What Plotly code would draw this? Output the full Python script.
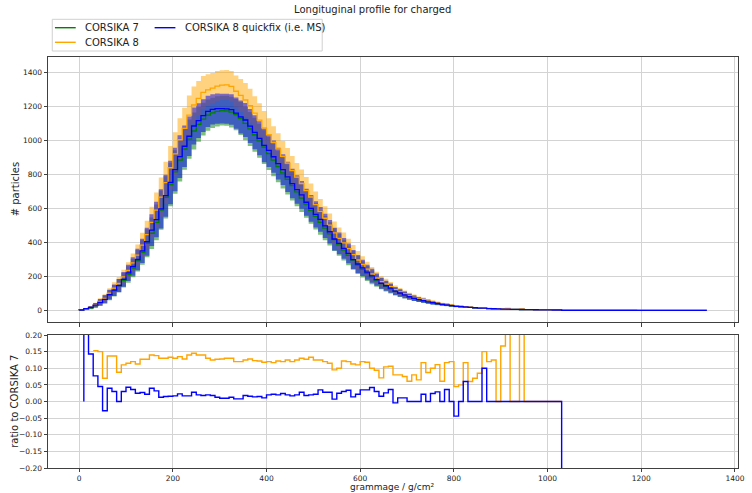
import plotly.graph_objects as go

# bin edges (g/cm^2); value k belongs to the interval (edge[k-1], edge[k]]
grammage = list(range(0, 1341, 10))

corsika7 = [0,
    2, 7, 15, 28, 45, 66, 89, 115, 145, 177,
    211, 249, 292, 341, 395, 454, 518, 590, 665, 741,
    815, 885, 950, 1008, 1056, 1095, 1126, 1149, 1163, 1172,
    1176, 1175, 1167, 1152, 1130, 1101, 1068, 1034, 998, 961,
    923, 885, 847, 809, 771, 734, 697, 661, 625, 589,
    553, 518, 484, 450, 417, 385, 354, 324, 295, 267,
    241, 217, 195, 175, 157, 141, 126, 113, 101, 90,
    80, 71, 63, 56, 50, 44, 39, 35, 31, 27.5,
    24.5, 21.5, 19, 17, 15, 13.3, 11.8, 10.5, 9.3, 8.3,
    7.4, 6.6, 5.9, 5.3, 4.7, 4.2, 3.7, 3.3, 2.9, 2.6,
    2.3, 2.0, 1.8, 1.6, 1.4, 1.25, 1.1, 0.98, 0.87, 0.77,
    0.68, 0.6, 0.53, 0.47, 0.42, 0.37, 0.33, 0.29, 0.26, 0.23,
    0.2, 0.18, 0.16, 0.14, 0.12, 0.11, 0.1, 0.09, 0.08, 0.07,
    0.06, 0.05, 0.05, 0.04]

corsika8 = [0,
    2.2, 8, 17.3, 32.3, 51.8, 70.6, 101.2, 130.8, 157.8, 196.5,
    235.3, 278.9, 325, 384.3, 445.2, 517.6, 589.5, 666.7, 751.5, 839.6,
    921, 1004.5, 1071.6, 1149.1, 1209.1, 1248.3, 1283.6, 1298.4, 1308.4, 1320.8,
    1326.5, 1327.8, 1318.7, 1290.2, 1265.6, 1238.6, 1204.7, 1161.2, 1119.8, 1074.4,
    1033.8, 988.5, 950.3, 906.1, 867.4, 822.1, 784.1, 746.9, 704.4, 667.3,
    622.1, 582.8, 542.1, 501.8, 456.6, 423.5, 397.2, 362.9, 328.3, 296.4,
    269.9, 242.6, 214.5, 191.5, 168.1, 155.7, 139.4, 122, 109.1, 96.8,
    84.9, 76.7, 67.1, 62.6, 54.4, 48.4, 43.3, 37.1, 34.6, 30.8,
    25.6, 22.6, 21.2, 18, 16.1, 14.4, 13.6, 11.8, 10.5, 8.3,
    8.6, 10.6, 5.9, 5.3, 8.5, 4.2, 3.7, 3.3, 2.9, 2.6,
    2.3, 2.0, 1.8, 1.6, 1.4, 1.25, 1.1, 0.98, 0.87, 0.77,
    0.68, 0.6, 0.53, 0.47, 0.42, 0.37, 0.33, 0.29, 0.26, 0.23,
    0.2, 0.18, 0.16, 0.14, 0.12, 0.11, 0.1, 0.09, 0.08, 0.07,
    0.06, 0.05, 0.05, 0.04]

corsika8_quickfix = [0,
    2, 9.5, 17.1, 30.2, 47, 64.2, 92.6, 118.5, 145, 182.3,
    220.1, 258, 299.3, 350.2, 403.7, 472.2, 534.6, 597.7, 675, 752.9,
    828.9, 905.4, 966.2, 1025.1, 1085.6, 1116.9, 1146.3, 1172, 1183.9, 1187.2,
    1187.8, 1186.8, 1182.2, 1161.2, 1139, 1120.8, 1085.1, 1048.5, 1013, 971.6,
    941.5, 904.5, 863.9, 828.4, 786.4, 746.5, 710.9, 679.5, 636.3, 600.8,
    565.2, 536.1, 497.6, 462.6, 419.9, 394.6, 364.6, 335, 299.1, 272.9,
    249.4, 224.6, 203.2, 180.3, 159.5, 144.7, 130.5, 112.5, 102.1, 91,
    80, 71, 63, 57.2, 50, 45.1, 40.1, 35, 32.1, 27.5,
    23.4, 21.5, 20.1, 17, 15, 13.3, 13, 10.5, 9.3, 8.3,
    7.4, 6.6, 5.9, 5.3, 4.7, 4.2, 3.7, 3.3, 2.9, 2.6,
    2.3, 2.0, 1.8, 0, 0, 0, 0, 0, 0, 0,
    0, 0, 0, 0, 0, 0, 0, 0, 0, 0,
    0, 0, 0, 0, 0, 0, 0, 0, 0, 0,
    0, 0, 0, 0]

# half-width of the shaded spread band (same for all three series)
spread = [0,
    1.5, 4, 8, 13, 19, 24, 29, 34, 39, 43,
    48, 55, 63, 72, 82, 93, 105, 116, 124, 128,
    128, 126, 122, 116, 109, 102, 96, 92, 89, 89,
    88, 88, 90, 92, 97, 100, 100, 100, 100, 99,
    97, 95, 93, 91, 89, 87, 84, 82, 80, 79,
    77, 73, 71, 69, 67, 64, 61, 58, 56, 53,
    48, 44, 41, 36, 33, 30, 27, 24, 22, 20,
    18, 16, 14.3, 12.5, 11.5, 10.5, 8.6, 7.7, 7.1, 6.2,
    5.7, 5.2, 4.3, 3.8, 3.5, 3.1, 2.7, 2.4, 2.1, 1.8,
    1.6, 1.4, 1.25, 1.1, 1.0, 0.9, 0.8, 0.7, 0.62, 0.55,
    0.5, 0.45, 0.4, 0.36, 0.32, 0.28, 0.25, 0.22, 0.2, 0.18,
    0.16, 0.14, 0.12, 0.11, 0.1, 0.09, 0.08, 0.07, 0.06, 0.055,
    0.05, 0.045, 0.04, 0.035, 0.03, 0.03, 0.025, 0.02, 0.02, 0.02,
    0.015, 0.015, 0.01, 0.01]

N = None
ratio_corsika8 = [N,
    N, N, 0.153, 0.153, 0.15, 0.07, 0.137, 0.137, 0.088, 0.11,
    0.115, 0.12, 0.113, 0.127, 0.127, 0.14, 0.138, 0.13, 0.13, 0.133,
    0.13, 0.135, 0.128, 0.14, 0.145, 0.14, 0.14, 0.13, 0.125, 0.127,
    0.128, 0.13, 0.13, 0.12, 0.12, 0.125, 0.128, 0.123, 0.122, 0.118,
    0.12, 0.117, 0.122, 0.12, 0.125, 0.12, 0.125, 0.13, 0.127, 0.133,
    0.125, 0.125, 0.12, 0.115, 0.095, 0.1, 0.122, 0.12, 0.113, 0.11,
    0.12, 0.118, 0.1, 0.094, 0.071, 0.104, 0.106, 0.08, 0.08, 0.075,
    0.061, 0.08, 0.065, 0.117, 0.087, 0.1, 0.111, 0.061, 0.117, 0.12,
    0.045, 0.05, 0.117, 0.06, 0.07, 0.085, 0.15, 0.12, 0.125, 0.0,
    0.167, 0.6, 0.0, 0.0, 0.8, 0.0, 0.0, 0.0, 0.0, 0.0,
    0.0, 0.0, 0.0, N, N, N, N, N, N, N,
    N, N, N, N, N, N, N, N, N, N,
    N, N, N, N, N, N, N, N, N, N,
    N, N, N, N]

ratio_quickfix = [N,
    0.0, 0.35, 0.143, 0.077, 0.045, -0.028, 0.04, 0.03, 0.0, 0.03,
    0.043, 0.036, 0.025, 0.027, 0.022, 0.04, 0.032, 0.013, 0.015, 0.016,
    0.017, 0.023, 0.017, 0.017, 0.028, 0.02, 0.018, 0.02, 0.018, 0.013,
    0.01, 0.01, 0.013, 0.008, 0.008, 0.018, 0.016, 0.014, 0.015, 0.011,
    0.02, 0.022, 0.02, 0.024, 0.02, 0.017, 0.02, 0.028, 0.018, 0.02,
    0.022, 0.035, 0.028, 0.028, 0.007, 0.025, 0.03, 0.034, 0.014, 0.022,
    0.035, 0.035, 0.042, 0.03, 0.016, 0.026, 0.036, -0.004, 0.011, 0.011,
    0.0, 0.0, 0.0, 0.022, 0.0, 0.024, 0.029, 0.0, 0.036, 0.0,
    -0.044, 0.0, 0.06, 0.0, 0.0, 0.0, 0.1, 0.0, 0.0, 0.0,
    0.0, 0.0, 0.0, 0.0, 0.0, 0.0, 0.0, 0.0, 0.0, 0.0,
    0.0, 0.0, 0.0, -1, -1, -1, -1, -1, -1, -1,
    -1, -1, -1, -1, -1, -1, -1, -1, -1, -1,
    -1, -1, -1, -1, -1, -1, -1, -1, -1, -1,
    -1, -1, -1, -1]

names = ["CORSIKA 7", "CORSIKA 8", "CORSIKA 8 quickfix (i.e. MS)"]
series = [corsika7, corsika8, corsika8_quickfix]
line_colors = ["#008000", "#FFA500", "#0000FF"]
fill_colors = ["rgba(0,128,0,0.5)", "rgba(255,165,0,0.5)", "rgba(0,0,255,0.5)"]

fig = go.Figure()

# spread bands
for vals, fc in zip(series, fill_colors):
    lo = [v - s for v, s in zip(vals, spread)]
    hi = [v + s for v, s in zip(vals, spread)]
    fig.add_trace(go.Scatter(x=grammage, y=lo, mode="lines", line=dict(width=0, shape="vh"),
                             showlegend=False, hoverinfo="skip", xaxis="x", yaxis="y"))
    fig.add_trace(go.Scatter(x=grammage, y=hi, mode="lines", line=dict(width=0, shape="vh"),
                             fill="tonexty", fillcolor=fc, showlegend=False, hoverinfo="skip",
                             xaxis="x", yaxis="y"))

# step lines
for vals, lc, nm in zip(series, line_colors, names):
    fig.add_trace(go.Scatter(x=grammage, y=vals, mode="lines", name=nm,
                             line=dict(color=lc, width=1.3, shape="vh"),
                             showlegend=False, xaxis="x", yaxis="y"))

# ratio panel
fig.add_trace(go.Scatter(x=grammage, y=ratio_corsika8, mode="lines", name=names[1],
                         line=dict(color=line_colors[1], width=1.4, shape="vh"),
                         showlegend=False, xaxis="x2", yaxis="y2"))
fig.add_trace(go.Scatter(x=grammage, y=ratio_quickfix, mode="lines", name=names[2],
                         line=dict(color=line_colors[2], width=1.4, shape="vh"),
                         showlegend=False, xaxis="x2", yaxis="y2"))

FONT = "DejaVu Sans"
GRID = "#d3d3d3"
SPINE = "#404040"
xticks = [0, 200, 400, 600, 800, 1000, 1200, 1400]

axis_common = dict(showgrid=True, gridcolor=GRID, gridwidth=1, zeroline=False,
                   showline=True, linecolor=SPINE, linewidth=1, mirror=True,
                   ticks="outside", tickcolor=SPINE, tickwidth=1,
                   tickfont=dict(family=FONT, size=7.5, color="#222"))

L, R, T, B = 48, 7, 57, 25
W, H = 752, 493
PW, PH = W - L - R, H - T - B


def px(xp):
    return (xp - L) / PW


def py(yp):
    return (H - B - yp) / PH


fig.update_layout(
    width=W, height=H,
    margin=dict(l=L, r=R, t=T, b=B),
    paper_bgcolor="white", plot_bgcolor="white",
    showlegend=False,
    font=dict(family=FONT, color="#222"),
    title=dict(text="Longituginal profile for charged", x=px(376), xref="paper", xanchor="center",
               y=1 - 9.5 / H, yref="container", yanchor="middle",
               font=dict(family=FONT, size=10, color="#222")),
    xaxis=dict(domain=[0, 1], anchor="y", range=[-66.5, 1406.5], tickvals=xticks,
               showticklabels=False, ticklen=3.5, **axis_common),
    yaxis=dict(domain=[py(322), 1], anchor="x", range=[-68.8, 1491.8], ticklen=3.5,
               tickvals=[0, 200, 400, 600, 800, 1000, 1200, 1400], **axis_common),
    xaxis2=dict(domain=[0, 1], anchor="y2", range=[-66.5, 1406.5], tickvals=xticks,
                ticklen=2.5, **axis_common),
    yaxis2=dict(domain=[0, py(335)], anchor="x2", range=[-0.2, 0.2], ticklen=3.5,
                tickvals=[-0.2, -0.15, -0.1, -0.05, 0, 0.05, 0.1, 0.15, 0.2],
                tickformat=".2f", **axis_common),
)

annotations = [
    dict(text="# particles", x=px(15), y=py(189), textangle=-90, size=10),
    dict(text="ratio to CORSIKA 7", x=px(13.5), y=py(401), textangle=-90, size=10),
    dict(text="grammage / g/cm²", x=px(395), y=py(487.2), textangle=0, size=9),
]
for a in annotations:
    fig.add_annotation(xref="paper", yref="paper", showarrow=False, xanchor="center",
                       yanchor="middle", x=a["x"], y=a["y"], text=a["text"], textangle=a["textangle"],
                       font=dict(family=FONT, size=a["size"], color="#222"))

# legend (drawn manually to match the two-column layout)
fig.add_shape(type="rect", xref="paper", yref="paper", x0=px(52.3), x1=px(325), y0=py(51), y1=py(19.3),
              line=dict(color="#d0d0d0", width=1), fillcolor="rgba(255,255,255,0.8)", layer="above")
legend_items = [(names[0], 55, 27.7, line_colors[0]),
                (names[1], 55, 42.3, line_colors[1]),
                (names[2], 155.7, 27.7, line_colors[2])]
for nm, x0, y0, c in legend_items:
    fig.add_shape(type="line", xref="paper", yref="paper", x0=px(x0), x1=px(x0 + 21), y0=py(y0), y1=py(y0),
                  line=dict(color=c, width=1.4), layer="above")
    fig.add_annotation(xref="paper", yref="paper", x=px(x0 + 28.3), y=py(y0), text=nm, showarrow=False,
                       xanchor="left", yanchor="middle", font=dict(family=FONT, size=10, color="#222"))

fig.write_html("out.html", config={"displayModeBar": False},
               post_script="document.body.style.margin='0';document.body.style.overflow='hidden';")
